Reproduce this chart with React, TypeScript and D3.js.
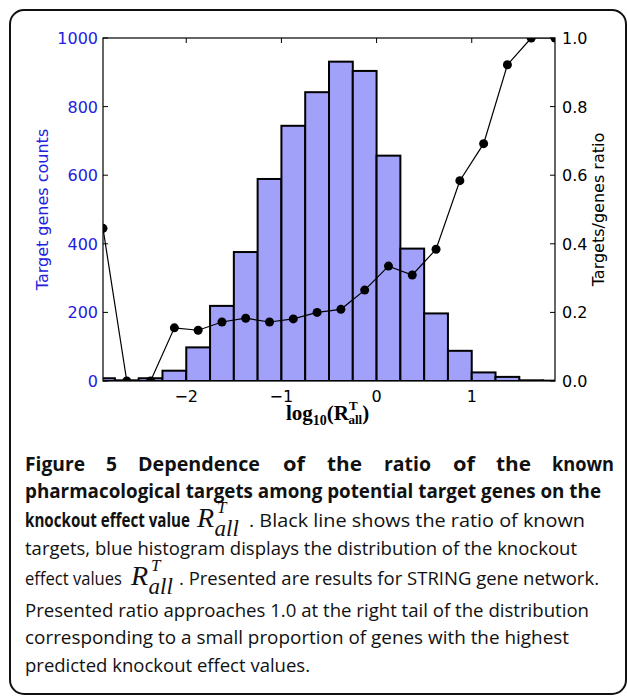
import React from "react";
import * as d3 from "d3";

// histogram bins (log10 of knockout effect), width 0.25
const binCenters = [
  -2.875, -2.625, -2.375, -2.125, -1.875, -1.625, -1.375, -1.125, -0.875, -0.625,
  -0.375, -0.125, 0.125, 0.375, 0.625, 0.875, 1.125, 1.375, 1.625, 1.875,
];
const geneCounts = [8, 2, 8, 30, 98, 219, 376, 589, 744, 842, 931, 904, 657, 386, 197, 88, 25, 12, 2, 1];
const targetRatios = [
  0.445, 0, 0, 0.155, 0.148, 0.172, 0.183, 0.172, 0.181, 0.2,
  0.209, 0.265, 0.335, 0.309, 0.384, 0.584, 0.692, 0.922, 1.0, 1.0,
];
const binWidth = 0.25;

const xTicks = [-2, -1, 0, 1];
const countTicks = [0, 200, 400, 600, 800, 1000];
const ratioTicks = [0, 0.2, 0.4, 0.6, 0.8, 1.0];

const W = 627;
const H = 696;
const plot = { left: 103, right: 555, top: 38, bottom: 381 };

const blue = "#2222dd";
const axisFont = "'DejaVu Sans', sans-serif";
const capFont = "'Open Sans', sans-serif";

function App() {
  const x = d3.scaleLinear().domain([-2.875, 1.875]).range([plot.left, plot.right]);
  const yCount = d3.scaleLinear().domain([0, 1000]).range([plot.bottom, plot.top]);
  const yRatio = d3.scaleLinear().domain([0, 1]).range([plot.bottom, plot.top]);

  const line = d3
    .line<number>()
    .x((_, i) => x(binCenters[i]))
    .y((d) => yRatio(d));

  const fmt = d3.format(".1f");
  const minus = (v: number) => (v < 0 ? "\u2212" + Math.abs(v) : String(v));

  // caption first line: justified word by word
  const line1 = [
    { w: "Figure", x0: 25, x1: 85 },
    { w: "5", x0: 106, x1: 117 },
    { w: "Dependence", x0: 138, x1: 260 },
    { w: "of", x0: 283, x1: 305 },
    { w: "the", x0: 327, x1: 362 },
    { w: "ratio", x0: 384, x1: 431 },
    { w: "of", x0: 453, x1: 475 },
    { w: "the", x0: 496, x1: 531 },
    { w: "known", x0: 552, x1: 614 },
  ];

  const rFormula = (px: number, py: number, key: string) => (
    <text key={key} x={px} y={py} fontFamily="'Liberation Serif', serif" fontStyle="italic" fill="#111">
      <tspan fontSize={28}>R</tspan>
      <tspan fontSize={17} dy={-14} dx={3}>T</tspan>
      <tspan fontSize={23} dx={-12} dy={23}>all</tspan>
    </text>
  );

  return (
    <svg width={W} height={H} style={{ position: "absolute", left: 0, top: 0, background: "#fff" }}>
      <defs>
        <clipPath id="plot-clip">
          <rect x={plot.left} y={plot.top} width={plot.right - plot.left} height={plot.bottom - plot.top} />
        </clipPath>
      </defs>
      <rect x={10} y={10} width={616} height={684} rx={14} fill="none" stroke="#111" strokeWidth={2} />

      <g clipPath="url(#plot-clip)">
        {/* histogram */}
        {binCenters.map((c, i) => (
          <rect
            key={i}
            x={x(c - binWidth / 2)}
            y={yCount(geneCounts[i])}
            width={x(c + binWidth / 2) - x(c - binWidth / 2)}
            height={yCount(0) - yCount(geneCounts[i])}
            fill="#a1a1f9"
            stroke="#000"
            strokeWidth={2}
          />
        ))}

        {/* ratio line */}
        <path d={line(targetRatios) || ""} fill="none" stroke="#000" strokeWidth={1.2} />
        {targetRatios.map((r, i) => (
          <circle key={i} cx={x(binCenters[i])} cy={yRatio(r)} r={4.5} fill="#000" />
        ))}
      </g>

      {/* frame */}
      <rect
        x={plot.left}
        y={plot.top}
        width={plot.right - plot.left}
        height={plot.bottom - plot.top}
        fill="none"
        stroke="#000"
        strokeWidth={1.2}
      />

      {/* x ticks */}
      {xTicks.map((t) => (
        <g key={t}>
          <line x1={x(t)} x2={x(t)} y1={plot.bottom} y2={plot.bottom - 5} stroke="#000" />
          <line x1={x(t)} x2={x(t)} y1={plot.top} y2={plot.top + 5} stroke="#000" />
          <text x={x(t)} y={plot.bottom + 21} textAnchor="middle" fontFamily={axisFont} fontSize={16} fill="#000">
            {minus(t)}
          </text>
        </g>
      ))}

      {/* left count axis */}
      {countTicks.map((t) => (
        <g key={t}>
          <line x1={plot.left} x2={plot.left + 5} y1={yCount(t)} y2={yCount(t)} stroke="#000" />
          <text x={plot.left - 5} y={yCount(t) + 6} textAnchor="end" fontFamily={axisFont} fontSize={16} fill={blue}>
            {t}
          </text>
        </g>
      ))}

      {/* right ratio axis */}
      {ratioTicks.map((t) => (
        <g key={t}>
          <line x1={plot.right} x2={plot.right - 5} y1={yRatio(t)} y2={yRatio(t)} stroke="#000" />
          <text x={plot.right + 7} y={yRatio(t) + 6} textAnchor="start" fontFamily={axisFont} fontSize={16} fill="#000">
            {fmt(t)}
          </text>
        </g>
      ))}

      <text
        transform={`translate(48, ${(plot.top + plot.bottom) / 2}) rotate(-90)`}
        textAnchor="middle"
        fontFamily={axisFont}
        fontSize={16}
        fill={blue}
      >
        Target genes counts
      </text>
      <text
        transform={`translate(604, ${(plot.top + plot.bottom) / 2}) rotate(-90)`}
        textAnchor="middle"
        fontFamily={axisFont}
        fontSize={16}
        fill="#000"
      >
        Targets/genes ratio
      </text>

      {/* x label */}
      <text x={286} y={420} fontFamily="'Liberation Serif', serif" fontWeight="bold" fill="#000">
        <tspan fontSize={21}>log</tspan>
        <tspan fontSize={14} dy={5}>10</tspan>
        <tspan fontSize={21} dy={-5}>(R</tspan>
        <tspan fontSize={13} dy={-10}>T</tspan>
        <tspan fontSize={13} dx={-8} dy={14}>all</tspan>
        <tspan fontSize={21} dy={-4}>)</tspan>
      </text>

      {/* caption */}
      <g fontFamily={capFont} fill="#111">
        {line1.map((wd, i) => (
          <text
            key={i}
            x={wd.x0}
            y={471}
            fontSize={19}
            fontWeight="bold"
            textLength={wd.x1 - wd.x0}
            lengthAdjust="spacingAndGlyphs"
          >
            {wd.w}
          </text>
        ))}
        <text x={25} y={498} fontSize={19} fontWeight="bold" textLength={576} lengthAdjust="spacingAndGlyphs">
          pharmacological targets among potential target genes on the
        </text>
        <text x={25} y={527} fontSize={19} fontWeight="bold" textLength={165} lengthAdjust="spacingAndGlyphs">
          knockout effect value
        </text>
        {rFormula(197, 527, "r1")}
        <text x={249} y={527} fontSize={18} textLength={336} lengthAdjust="spacingAndGlyphs">
          . Black line shows the ratio of known
        </text>
        <text x={25} y={555} fontSize={18} textLength={552} lengthAdjust="spacingAndGlyphs">
          targets, blue histogram displays the distribution of the knockout
        </text>
        <text x={25} y={585} fontSize={18} textLength={97} lengthAdjust="spacingAndGlyphs">
          effect values
        </text>
        {rFormula(131, 585, "r2")}
        <text x={179} y={585} fontSize={18} textLength={420} lengthAdjust="spacingAndGlyphs">
          . Presented are results for STRING gene network.
        </text>
        <text x={25} y={617} fontSize={18} textLength={564} lengthAdjust="spacingAndGlyphs">
          Presented ratio approaches 1.0 at the right tail of the distribution
        </text>
        <text x={25} y={644} fontSize={18} textLength={544} lengthAdjust="spacingAndGlyphs">
          corresponding to a small proportion of genes with the highest
        </text>
        <text x={25} y={672} fontSize={18} textLength={285} lengthAdjust="spacingAndGlyphs">
          predicted knockout effect values.
        </text>
      </g>
    </svg>
  );
}

export default App;
